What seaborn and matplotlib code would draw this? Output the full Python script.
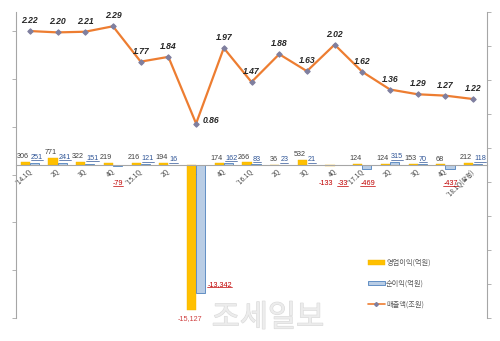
import numpy as np
import pandas as pd
import matplotlib
matplotlib.use("Agg")
import matplotlib.pyplot as plt
import seaborn as sns
from matplotlib.patches import Patch
from matplotlib.lines import Line2D
import matplotlib.patheffects as pe

# ---- data -------------------------------------------------------------
quarters = ["'14.1Q", "2Q", "3Q", "4Q", "'15.1Q", "2Q", "3Q", "4Q",
            "'16.1Q", "2Q", "3Q", "4Q", "'17.1Q", "2Q", "3Q", "4Q", "'18.1Q(잠정)"]
operating_profit = [306, 771, 322, 219, 216, 194, -15127, 174, 266, 36, 532,
                    -133, 124, 124, 153, 68, 212]
net_profit = [251, 241, 151, -79, 121, 16, -13342, 162, 83, 23, 21,
              -33, -469, 315, 70, -437, 118]
revenue = [2.22, 2.20, 2.21, 2.29, 1.77, 1.84, 0.86, 1.97, 1.47, 1.88, 1.63,
           2.02, 1.62, 1.36, 1.29, 1.27, 1.22]
series_names = ["영업이익(억원)", "순이익(억원)", "매출액(조원)"]

# ---- style ------------------------------------------------------------
sns.set_style("white")
plt.rcParams["font.family"] = ["Noto Sans CJK KR", "DejaVu Sans"]
AXIS_GRAY = "#A6A6A6"
ORANGE = "#FFC000"
LIGHT_BLUE = "#B9CDE5"
BLUE_EDGE = "#4F81BD"
LINE_ORANGE = "#ED7D31"
RED = "#C00000"
TEXT = "#404040"

n = len(quarters)
idx = list(range(n))
bars = pd.DataFrame({
    "idx": idx * 2,
    "series": [series_names[0]] * n + [series_names[1]] * n,
    "value": operating_profit + net_profit,
})

fig = plt.figure(figsize=(5.0, 3.41), dpi=100)
ax = fig.add_axes([16 / 500, 1 - 318 / 341, (487 - 16) / 500, (318 - 12) / 341])

sns.barplot(data=bars, x="idx", y="value", hue="series", order=idx,
            hue_order=series_names[:2], palette=[ORANGE, LIGHT_BLUE],
            width=0.66, saturation=1, legend=False, ax=ax, zorder=2)
op_bars, net_bars = ax.containers[0], ax.containers[1]
for b in op_bars:
    b.set_edgecolor("#F2B600")
    b.set_linewidth(0.3)
for b in net_bars:
    b.set_edgecolor(BLUE_EDGE)
    b.set_linewidth(0.6)

ax.set_xlim(-0.5, n - 0.5)
ax.set_ylim(-16000, 16000)
ax.set_yticks(np.arange(-16000, 16001, 5000))
ax.set_xlabel("")
ax.set_ylabel("")

# category axis sits on the zero line
ax.spines["bottom"].set_position(("data", 0))
ax.spines["top"].set_visible(False)
ax.spines["right"].set_visible(False)
for s in ("left", "bottom"):
    ax.spines[s].set_color(AXIS_GRAY)
    ax.spines[s].set_linewidth(0.8)
ax.set_xticks(np.arange(-0.5, n, 1.0))
ax.set_xticks(idx, labels=quarters, minor=True)
ax.tick_params(axis="x", which="major", length=2.5, direction="out",
               color=AXIS_GRAY, width=0.6, labelbottom=False)
ax.tick_params(axis="x", which="minor", length=0, pad=3.5,
               labelsize=4.6, labelcolor=TEXT)
for lbl in ax.get_xticklabels(minor=True):
    lbl.set_rotation(45)
    lbl.set_ha("right")
    lbl.set_va("center")
    lbl.set_rotation_mode("anchor")
ax.tick_params(axis="y", length=3, direction="out", color=AXIS_GRAY,
               width=0.6, labelleft=False)

# ---- revenue line on the secondary axis -------------------------------
ax2 = ax.twinx()
sns.lineplot(x=idx, y=revenue, ax=ax2, color=LINE_ORANGE, linewidth=1.6,
             marker="D", markersize=2.8, markerfacecolor="#7F7F9F",
             markeredgecolor="#7F7F9F", zorder=3)
ax2.set_ylim(-2.0, 2.5)
ax2.set_yticks(np.arange(-2.0, 2.51, 0.5))
for s in ("top", "bottom", "left"):
    ax2.spines[s].set_visible(False)
ax2.spines["right"].set_color(AXIS_GRAY)
ax2.spines["right"].set_linewidth(0.8)
ax2.tick_params(axis="y", length=3, direction="out", color=AXIS_GRAY,
                width=0.6, labelright=False)
ax2.set_ylabel("")

line_font = dict(family=["Liberation Sans", "DejaVu Sans"], fontsize=6.2,
                 fontweight="bold", fontstyle="italic", color="#262626")
for i, v in enumerate(revenue):
    if v < 1.0:
        ax2.annotate(f"{v:.2f}", (i, v), xytext=(5, 2), textcoords="offset points",
                     ha="left", va="center", **line_font)
    else:
        ax2.annotate(f"{v:.2f}", (i, v), xytext=(0, 7.5), textcoords="offset points",
                     ha="center", va="center", **line_font)

# ---- bar value labels -------------------------------------------------
num_font = dict(family=["Liberation Sans", "DejaVu Sans"], fontsize=5.2)
underlined = []
for i in idx:
    ob, nb = op_bars[i], net_bars[i]
    ov, nv = operating_profit[i], net_profit[i]
    # operating profit
    if ov >= 0:
        ax.annotate(f"{ov:,}", (ob.get_x() + ob.get_width(), ov), xytext=(-0.8, 1.2),
                    textcoords="offset points", ha="right", va="bottom",
                    color=TEXT, **num_font)
    elif ov > -1000:
        ax.annotate(f"{ov:,}", (ob.get_x() + ob.get_width() / 2, 0), xytext=(-3, -13),
                    textcoords="offset points", ha="center", va="center",
                    color=RED, **num_font)
    else:
        ax.annotate(f"{ov:,}", (ob.get_x() + ob.get_width() / 2, ov), xytext=(-1, -6.5),
                    textcoords="offset points", ha="center", va="center",
                    color="#D04040", **num_font)
    # net profit
    if nv >= 0:
        t = ax.annotate(f"{nv:,}", (nb.get_x(), nv), xytext=(0.8, 1.2),
                        textcoords="offset points", ha="left", va="bottom",
                        color="#2F5597", **num_font)
        underlined.append((t, "#2F5597"))
    elif nv > -1000:
        dx = 2.5 if ov < 0 else 0.5
        t = ax.annotate(f"{nv:,}", (nb.get_x() + nb.get_width() / 2, 0), xytext=(dx, -13),
                        textcoords="offset points", ha="center", va="center",
                        color=RED, **num_font)
        underlined.append((t, RED))
    else:
        t = ax.annotate(f"{nv:,}", (nb.get_x() + nb.get_width(), nv), xytext=(1.5, 6),
                        textcoords="offset points", ha="left", va="center",
                        color=RED, **num_font)
        underlined.append((t, RED))

# ---- legend -----------------------------------------------------------
handles = [
    Patch(facecolor=ORANGE, edgecolor="#F2B600", linewidth=0.3),
    Patch(facecolor=LIGHT_BLUE, edgecolor=BLUE_EDGE, linewidth=0.6),
    Line2D([], [], color=LINE_ORANGE, linewidth=1.2, marker="D", markersize=2,
           markerfacecolor="#7F7F9F", markeredgecolor="#7F7F9F"),
]
fig.legend(handles, series_names, loc="upper left",
           bbox_to_anchor=(363 / 500, 1 - 254 / 341), frameon=False,
           fontsize=5.2, labelcolor="#595959", handlelength=2.3,
           handleheight=0.6, handletextpad=0.2, labelspacing=1.75,
           borderpad=0.2)

# ---- watermark --------------------------------------------------------
fig.text(268 / 500, 1 - 318 / 341, "조세일보", ha="center", va="center",
         fontsize=22, color="#EDEDED", alpha=0.9, zorder=10,
         family=["Noto Sans CJK KR"],
         path_effects=[pe.withStroke(linewidth=0.8, foreground="#D6D6D6")])

# underline the net-profit labels
fig.canvas.draw()
renderer = fig.canvas.get_renderer()
inv = fig.transFigure.inverted()
for t, col in underlined:
    bb = t.get_window_extent(renderer)
    (x0, y0), (x1, _) = inv.transform([(bb.x0, bb.y0 + 0.6), (bb.x1, bb.y0 + 0.6)])
    fig.add_artist(Line2D([x0, x1], [y0, y0], color=col, linewidth=0.5,
                          transform=fig.transFigure))

fig.savefig("out.png", dpi=100)
